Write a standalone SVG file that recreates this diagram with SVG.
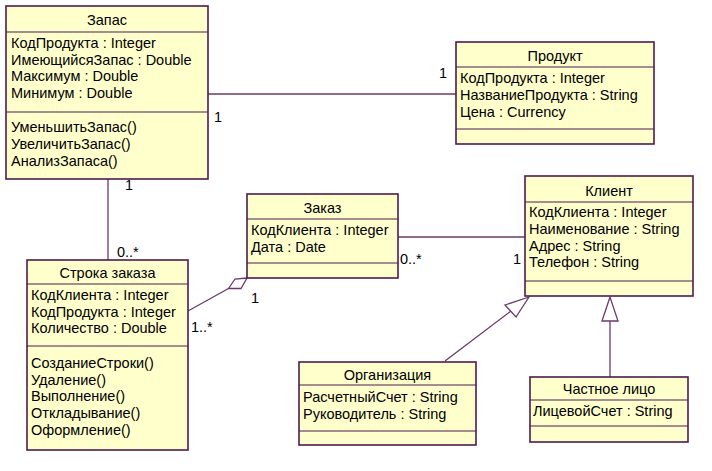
<svg xmlns="http://www.w3.org/2000/svg" width="712" height="471" viewBox="0 0 712 471">
<style>
.box{fill:#FFFFCC;stroke:#4F1B4F;stroke-width:1.6}
.sep{stroke:#4F1B4F;stroke-width:1.2}
.conn{stroke:#6A3A6A;stroke-width:1.3;fill:none}
text{font-family:"Liberation Sans",Arial,sans-serif;font-size:14.5px;fill:#000}
.t{text-anchor:middle}
</style>
<rect width="712" height="471" fill="#fff"/>
<g id="connectors">
<line class="conn" x1="208" y1="94" x2="456" y2="94"/>
<line class="conn" x1="108" y1="179" x2="108" y2="260"/>
<line class="conn" x1="398" y1="237" x2="525" y2="237"/>
<line class="conn" x1="188" y1="311" x2="228.5" y2="288.5"/>
<polygon class="conn" points="247,278 235,279 228.5,288.5 241,288.5" fill="#fff"/>
<line class="conn" x1="445" y1="361" x2="511" y2="311"/>
<polygon class="conn" points="529,297 505,305 516,317" fill="#fff"/>
<line class="conn" x1="610" y1="377" x2="610" y2="321"/>
<polygon class="conn" points="610,297 602,321 618,321" fill="#fff"/>
<text x="218" y="122" class="t">1</text>
<text x="443" y="78" class="t">1</text>
<text x="129" y="190" class="t">1</text>
<text x="117" y="257">0..*</text>
<text x="255" y="303" class="t">1</text>
<text x="191" y="332">1..*</text>
<text x="400" y="264">0..*</text>
<text x="517" y="264" class="t">1</text>
</g>
<g id="zapas">
<rect class="box" x="6" y="6" width="202" height="173"/>
<line class="sep" x1="6" y1="32" x2="208" y2="32"/>
<line class="sep" x1="6" y1="112" x2="208" y2="112"/>
<text x="107" y="25" class="t">Запас</text>
<text x="11" y="48">КодПродукта : Integer</text>
<text x="11" y="65">ИмеющийсяЗапас : Double</text>
<text x="11" y="81">Максимум : Double</text>
<text x="11" y="98">Минимум : Double</text>
<text x="11" y="132">УменьшитьЗапас()</text>
<text x="11" y="149">УвеличитьЗапас()</text>
<text x="11" y="166">АнализЗапаса()</text>
</g>
<g id="produkt">
<rect class="box" x="456" y="42" width="198" height="102"/>
<line class="sep" x1="456" y1="67" x2="654" y2="67"/>
<line class="sep" x1="456" y1="129" x2="654" y2="129"/>
<text x="555" y="61" class="t">Продукт</text>
<text x="460" y="83">КодПродукта : Integer</text>
<text x="460" y="100">НазваниеПродукта : String</text>
<text x="460" y="117">Цена : Currency</text>
</g>
<g id="stroka">
<rect class="box" x="27" y="260" width="161" height="190"/>
<line class="sep" x1="27" y1="284" x2="188" y2="284"/>
<line class="sep" x1="27" y1="346" x2="188" y2="346"/>
<text x="107.5" y="278" class="t">Строка заказа</text>
<text x="31" y="300">КодКлиента : Integer</text>
<text x="31" y="317">КодПродукта : Integer</text>
<text x="31" y="333">Количество : Double</text>
<text x="31" y="368">СозданиеСтроки()</text>
<text x="31" y="385">Удаление()</text>
<text x="31" y="401">Выполнение()</text>
<text x="31" y="418">Откладывание()</text>
<text x="31" y="435">Оформление()</text>
</g>
<g id="zakaz">
<rect class="box" x="247" y="194" width="151" height="84"/>
<line class="sep" x1="247" y1="219" x2="398" y2="219"/>
<line class="sep" x1="247" y1="263" x2="398" y2="263"/>
<text x="322.5" y="213" class="t">Заказ</text>
<text x="251" y="235">КодКлиента : Integer</text>
<text x="251" y="252">Дата : Date</text>
</g>
<g id="klient">
<rect class="box" x="525" y="176" width="168" height="120"/>
<line class="sep" x1="525" y1="202" x2="693" y2="202"/>
<line class="sep" x1="525" y1="281" x2="693" y2="281"/>
<text x="609" y="196" class="t">Клиент</text>
<text x="529" y="217">КодКлиента : Integer</text>
<text x="529" y="234">Наименование : String</text>
<text x="529" y="251">Адрес : String</text>
<text x="529" y="267">Телефон : String</text>
</g>
<g id="organizaciya">
<rect class="box" x="299" y="362" width="177" height="83"/>
<line class="sep" x1="299" y1="385" x2="476" y2="385"/>
<line class="sep" x1="299" y1="431" x2="476" y2="431"/>
<text x="387.5" y="380" class="t">Организация</text>
<text x="303" y="402">РасчетныйСчет : String</text>
<text x="303" y="419">Руководитель : String</text>
</g>
<g id="chastnoe">
<rect class="box" x="530" y="377" width="158" height="65"/>
<line class="sep" x1="530" y1="400" x2="688" y2="400"/>
<line class="sep" x1="530" y1="426" x2="688" y2="426"/>
<text x="609" y="394" class="t">Частное лицо</text>
<text x="533" y="416">ЛицевойСчет : String</text>
</g>
</svg>
